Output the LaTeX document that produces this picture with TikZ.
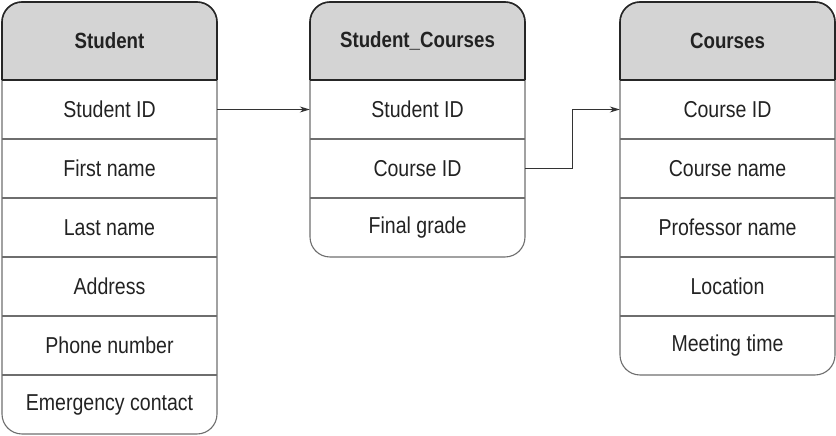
\documentclass[tikz,border=0pt]{standalone}
\usepackage{fontspec}
\setmainfont{Liberation Sans}[FakeStretch=0.85]
\usepackage{xcolor}
\usetikzlibrary{
    arrows.meta,
    positioning
}
\definecolor{hdrgray}{HTML}{D4D4D4}
\definecolor{rulegray}{HTML}{6E6E6E}
\definecolor{inkgray}{HTML}{222222}
\tikzset{
    field/.style={minimum width=215pt, minimum height=59pt, inner sep=0pt, text=inkgray, font=\fontsize{23}{26}\selectfont},
    title/.style={field, minimum height=78pt, font=\fontsize{22}{26}\selectfont\bfseries},
    tableline/.style={draw=rulegray, line width=1.1pt},
    headline/.style={draw=black!85, line width=1.6pt},
    link/.style={draw=black!80, line width=0.9pt, -{Stealth[length=10pt, width=6pt]}}
}

\begin{document}
\begin{tikzpicture}[x=1pt, y=1pt]
    \useasboundingbox (0, 0) rectangle (836, 436);
    % Student
    \begin{scope}
        \clip[rounded corners=20pt] (2, 2) rectangle (217, 434);
        \fill[hdrgray] (2, 356) rectangle (217, 434);
    \end{scope}
    \draw[tableline]
    (2, 297) -- (217, 297)
    (2, 238) -- (217, 238)
    (2, 179) -- (217, 179)
    (2, 120) -- (217, 120)
    (2, 61) -- (217, 61);
    \draw[tableline, rounded corners=20pt] (2, 2) rectangle (217, 434);
    \draw[headline, rounded corners=20pt] (2, 356) -- (2, 434) -- (217, 434) -- (217, 356);
    \draw[headline] (2, 356) -- (217, 356);
    \node[title] (stu) at (109.5, 395) {Student};
    \node[field] (stuid) at (109.5, 326.5) {Student ID};
    \node[field] (stufirst) at (109.5, 267.5) {First name};
    \node[field] (stulast) at (109.5, 208.5) {Last name};
    \node[field] (stuaddr) at (109.5, 149.5) {Address};
    \node[field] (stuphone) at (109.5, 90.5) {Phone number};
    \node[field] (stuemerg) at (109.5, 31.5) {Emergency contact};
    % Student_Courses
    \begin{scope}
        \clip[rounded corners=20pt] (310, 179) rectangle (525, 434);
        \fill[hdrgray] (310, 356) rectangle (525, 434);
    \end{scope}
    \draw[tableline]
    (310, 297) -- (525, 297)
    (310, 238) -- (525, 238);
    \draw[tableline, rounded corners=20pt] (310, 179) rectangle (525, 434);
    \draw[headline, rounded corners=20pt] (310, 356) -- (310, 434) -- (525, 434) -- (525, 356);
    \draw[headline] (310, 356) -- (525, 356);
    \node[title] (sc) at (417.5, 395) {Student\_Courses};
    \node[field] (scstu) at (417.5, 326.5) {Student ID};
    \node[field] (sccrs) at (417.5, 267.5) {Course ID};
    \node[field] (scgrade) at (417.5, 208.5) {Final grade};
    % Courses
    \begin{scope}
        \clip[rounded corners=20pt] (620, 61) rectangle (835, 434);
        \fill[hdrgray] (620, 356) rectangle (835, 434);
    \end{scope}
    \draw[tableline]
    (620, 297) -- (835, 297)
    (620, 238) -- (835, 238)
    (620, 179) -- (835, 179)
    (620, 120) -- (835, 120);
    \draw[tableline, rounded corners=20pt] (620, 61) rectangle (835, 434);
    \draw[headline, rounded corners=20pt] (620, 356) -- (620, 434) -- (835, 434) -- (835, 356);
    \draw[headline] (620, 356) -- (835, 356);
    \node[title] (crs) at (727.5, 395) {Courses};
    \node[field] (crsid) at (727.5, 326.5) {Course ID};
    \node[field] (crsname) at (727.5, 267.5) {Course name};
    \node[field] (crsprof) at (727.5, 208.5) {Professor name};
    \node[field] (crsloc) at (727.5, 149.5) {Location};
    \node[field] (crstime) at (727.5, 90.5) {Meeting time};
    % keys
    \draw[link] (stuid.east) -- (scstu.west);
    \draw[link] (sccrs.east) -- ++(47.5, 0) |- (crsid.west);
\end{tikzpicture}
\end{document}
